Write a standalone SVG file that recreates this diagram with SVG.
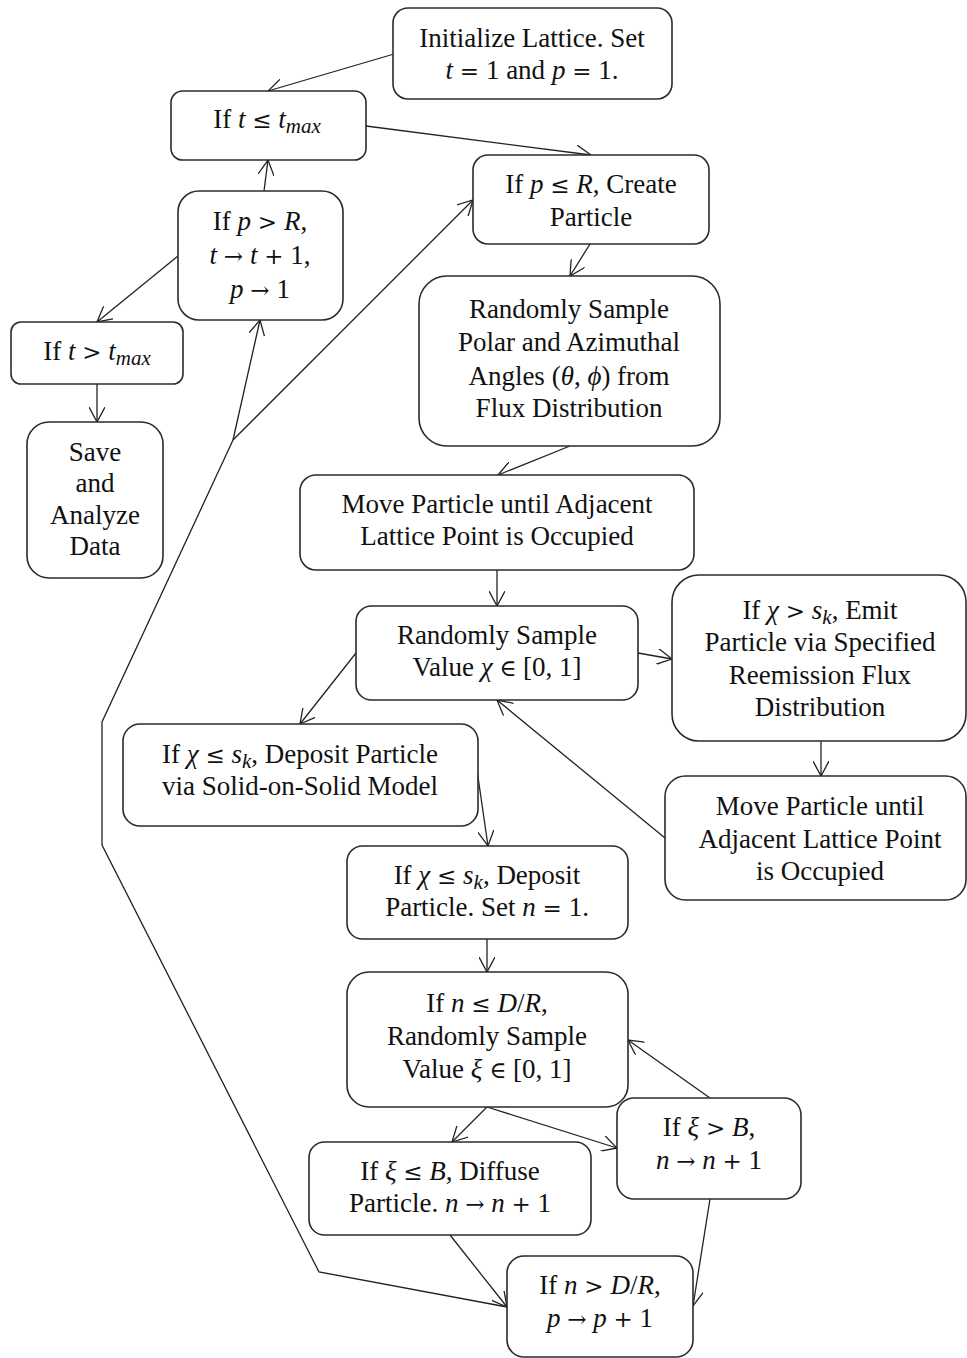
<svg xmlns="http://www.w3.org/2000/svg" width="967" height="1358" viewBox="0 0 967 1358">
<defs>
<style>
.box{fill:#fff;stroke:#2b2b2b;stroke-width:1.6}
.t{font-family:"Liberation Serif","DejaVu Serif",serif;font-size:27px;fill:#111;text-anchor:middle}
.i{font-style:italic}
.o{font-family:"DejaVu Serif","Liberation Serif",serif;font-size:23px}
.sub{font-style:italic;font-size:21px}
.c{fill:none;stroke:#222;stroke-width:1.3}
.a{marker-end:url(#arr)}
</style>
<marker id="arr" viewBox="0 0 16 16" refX="15" refY="8" markerWidth="16" markerHeight="16" markerUnits="userSpaceOnUse" orient="auto">
<path d="M0,0 L15,8 L0,16" fill="none" stroke="#222" stroke-width="1.3"/>
</marker>
</defs>
<g id="connectors">
<line class="c a" x1="394" y1="54" x2="268" y2="91"/>
<line class="c a" x1="366" y1="126" x2="591" y2="155"/>
<line class="c a" x1="264" y1="191" x2="268" y2="160"/>
<line class="c a" x1="178" y1="256" x2="97" y2="322"/>
<line class="c a" x1="97" y1="384" x2="97" y2="422"/>
<line class="c a" x1="590" y1="244" x2="570" y2="276"/>
<line class="c a" x1="570" y1="446" x2="498" y2="475"/>
<line class="c a" x1="497" y1="570" x2="497" y2="606"/>
<line class="c a" x1="638" y1="653" x2="672" y2="659"/>
<line class="c a" x1="356" y1="653" x2="300" y2="724"/>
<line class="c a" x1="821" y1="741" x2="821" y2="776"/>
<line class="c a" x1="665" y1="838" x2="497" y2="700"/>
<line class="c a" x1="477" y1="770" x2="488" y2="846"/>
<line class="c a" x1="487" y1="939" x2="487" y2="972"/>
<line class="c a" x1="487" y1="1107" x2="452" y2="1142"/>
<line class="c a" x1="487" y1="1107" x2="617" y2="1148"/>
<line class="c a" x1="710" y1="1098" x2="628" y2="1040"/>
<line class="c a" x1="710" y1="1199" x2="693" y2="1306"/>
<line class="c a" x1="450" y1="1235" x2="507" y2="1307"/>
<polyline class="c" points="507,1307 319,1272 102,845 102,722 233,440"/>
<line class="c a" x1="233" y1="440" x2="473" y2="200"/>
<line class="c a" x1="233" y1="440" x2="260" y2="320"/>
</g>
<g id="init">
<rect class="box" x="393" y="8" width="279" height="91" rx="15"/>
<text class="t" x="532" y="47">Initialize Lattice. Set</text>
<text class="t" x="532" y="79"><tspan class="i">t</tspan> <tspan class="o">=</tspan> 1 and <tspan class="i">p</tspan> <tspan class="o">=</tspan> 1.</text>
</g>
<g id="tle">
<rect class="box" x="171" y="91" width="195" height="69" rx="11.5"/>
<text class="t" x="267" y="128">If <tspan class="i">t</tspan> <tspan class="o">≤</tspan> <tspan class="i">t</tspan><tspan class="sub" dy="5">max</tspan></text>
</g>
<g id="ple">
<rect class="box" x="473" y="155" width="236" height="89" rx="15"/>
<text class="t" x="591" y="193">If <tspan class="i">p</tspan> <tspan class="o">≤</tspan> <tspan class="i">R</tspan>, Create</text>
<text class="t" x="591" y="226">Particle</text>
</g>
<g id="pgt">
<rect class="box" x="178" y="191" width="165" height="129" rx="21"/>
<text class="t" x="260" y="230">If <tspan class="i">p</tspan> <tspan class="o">&gt;</tspan> <tspan class="i">R</tspan>,</text>
<text class="t" x="260" y="264"><tspan class="i">t</tspan> <tspan class="o">→</tspan> <tspan class="i">t</tspan> <tspan class="o">+</tspan> 1,</text>
<text class="t" x="260" y="298"><tspan class="i">p</tspan> <tspan class="o">→</tspan> 1</text>
</g>
<g id="tgt">
<rect class="box" x="11" y="322" width="172" height="62" rx="10"/>
<text class="t" x="97" y="360">If <tspan class="i">t</tspan> <tspan class="o">&gt;</tspan> <tspan class="i">t</tspan><tspan class="sub" dy="5">max</tspan></text>
</g>
<g id="save">
<rect class="box" x="27" y="422" width="136" height="156" rx="22"/>
<text class="t" x="95" y="461">Save</text>
<text class="t" x="95" y="492">and</text>
<text class="t" x="95" y="524">Analyze</text>
<text class="t" x="95" y="555">Data</text>
</g>
<g id="polar">
<rect class="box" x="419" y="276" width="301" height="170" rx="28"/>
<text class="t" x="569" y="318">Randomly Sample</text>
<text class="t" x="569" y="351">Polar and Azimuthal</text>
<text class="t" x="569" y="385">Angles (<tspan class="i">θ</tspan>, <tspan class="i">ϕ</tspan>) from</text>
<text class="t" x="569" y="417">Flux Distribution</text>
</g>
<g id="move1">
<rect class="box" x="300" y="475" width="394" height="95" rx="16"/>
<text class="t" x="497" y="513">Move Particle until Adjacent</text>
<text class="t" x="497" y="545">Lattice Point is Occupied</text>
</g>
<g id="value">
<rect class="box" x="356" y="606" width="282" height="94" rx="15.5"/>
<text class="t" x="497" y="644">Randomly Sample</text>
<text class="t" x="497" y="676">Value <tspan class="i">χ</tspan> <tspan class="o">∈</tspan> [0, 1]</text>
</g>
<g id="emit">
<rect class="box" x="672" y="575" width="294" height="166" rx="27"/>
<text class="t" x="820" y="619">If <tspan class="i">χ</tspan> <tspan class="o">&gt;</tspan> <tspan class="i">s</tspan><tspan class="sub" dy="5">k</tspan><tspan dy="-5">, Emit</tspan></text>
<text class="t" x="820" y="651">Particle via Specified</text>
<text class="t" x="820" y="684">Reemission Flux</text>
<text class="t" x="820" y="716">Distribution</text>
</g>
<g id="sos">
<rect class="box" x="123" y="724" width="355" height="102" rx="17"/>
<text class="t" x="300" y="763">If <tspan class="i">χ</tspan> <tspan class="o">≤</tspan> <tspan class="i">s</tspan><tspan class="sub" dy="5">k</tspan><tspan dy="-5">, Deposit Particle</tspan></text>
<text class="t" x="300" y="795">via Solid-on-Solid Model</text>
</g>
<g id="move2">
<rect class="box" x="665" y="776" width="301" height="124" rx="20.5"/>
<text class="t" x="820" y="815">Move Particle until</text>
<text class="t" x="820" y="848">Adjacent Lattice Point</text>
<text class="t" x="820" y="880">is Occupied</text>
</g>
<g id="deposit">
<rect class="box" x="347" y="846" width="281" height="93" rx="15.5"/>
<text class="t" x="487" y="884">If <tspan class="i">χ</tspan> <tspan class="o">≤</tspan> <tspan class="i">s</tspan><tspan class="sub" dy="5">k</tspan><tspan dy="-5">, Deposit</tspan></text>
<text class="t" x="487" y="916">Particle. Set <tspan class="i">n</tspan> <tspan class="o">=</tspan> 1.</text>
</g>
<g id="nle">
<rect class="box" x="347" y="972" width="281" height="135" rx="22"/>
<text class="t" x="487" y="1012">If <tspan class="i">n</tspan> <tspan class="o">≤</tspan> <tspan class="i">D</tspan>/<tspan class="i">R</tspan>,</text>
<text class="t" x="487" y="1045">Randomly Sample</text>
<text class="t" x="487" y="1078">Value <tspan class="i">ξ</tspan> <tspan class="o">∈</tspan> [0, 1]</text>
</g>
<g id="xgt">
<rect class="box" x="617" y="1098" width="184" height="101" rx="17"/>
<text class="t" x="709" y="1136">If <tspan class="i">ξ</tspan> <tspan class="o">&gt;</tspan> <tspan class="i">B</tspan>,</text>
<text class="t" x="709" y="1169"><tspan class="i">n</tspan> <tspan class="o">→</tspan> <tspan class="i">n</tspan> <tspan class="o">+</tspan> 1</text>
</g>
<g id="diffuse">
<rect class="box" x="309" y="1142" width="282" height="93" rx="15.5"/>
<text class="t" x="450" y="1180">If <tspan class="i">ξ</tspan> <tspan class="o">≤</tspan> <tspan class="i">B</tspan>, Diffuse</text>
<text class="t" x="450" y="1212">Particle. <tspan class="i">n</tspan> <tspan class="o">→</tspan> <tspan class="i">n</tspan> <tspan class="o">+</tspan> 1</text>
</g>
<g id="ngt">
<rect class="box" x="507" y="1256" width="186" height="101" rx="17"/>
<text class="t" x="600" y="1294">If <tspan class="i">n</tspan> <tspan class="o">&gt;</tspan> <tspan class="i">D</tspan>/<tspan class="i">R</tspan>,</text>
<text class="t" x="600" y="1327"><tspan class="i">p</tspan> <tspan class="o">→</tspan> <tspan class="i">p</tspan> <tspan class="o">+</tspan> 1</text>
</g>
</svg>
